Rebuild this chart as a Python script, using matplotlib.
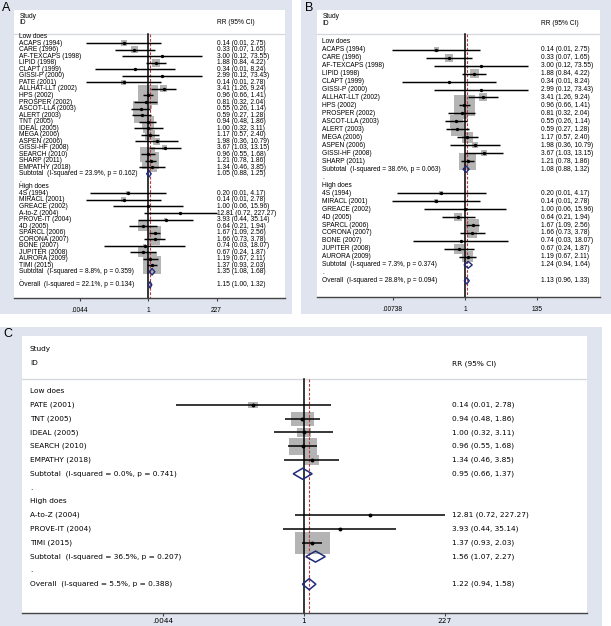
import numpy as np
import matplotlib
matplotlib.use('Agg')
import matplotlib.pyplot as plt
from matplotlib.patches import Rectangle, Polygon
from matplotlib.ticker import NullLocator
from matplotlib.transforms import blended_transform_factory

studies = ['ACAPS (1994)', 'CARE (1996)', 'AF-TEXCAPS (1998)', 'LIPID (1998)', 'CLAPT (1999)',
           'GISSI-P (2000)', 'PATE (2001)', 'ALLHAT-LLT (2002)', 'HPS (2002)', 'PROSPER (2002)',
           'ASCOT-LLA (2003)', 'ALERT (2003)', 'TNT (2005)', 'IDEAL (2005)', 'MEGA (2006)',
           'ASPEN (2006)', 'GISSI-HF (2008)', 'SEARCH (2010)', 'SHARP (2011)', 'EMPATHY (2018)',
           '4S (1994)', 'MIRACL (2001)', 'GREACE (2002)', 'A-to-Z (2004)', 'PROVE-IT (2004)',
           '4D (2005)', 'SPARCL (2006)', 'CORONA (2007)', 'BONE (2007)', 'JUPITER (2008)',
           'AURORA (2009)', 'TIMI (2015)']
rr = [0.14, 0.33, 3.00, 1.88, 0.34, 2.99, 0.14, 3.41, 0.96, 0.81,
      0.55, 0.59, 0.94, 1.00, 1.17, 1.98, 3.67, 0.96, 1.21, 1.34,
      0.20, 0.14, 1.00, 12.81, 3.93, 0.64, 1.67, 1.66, 0.74, 0.67, 1.19, 1.37]
ci_lo = [0.0071, 0.07, 0.12, 0.84, 0.014, 0.12, 0.0071, 1.26, 0.66, 0.32,
         0.26, 0.27, 0.48, 0.32, 0.57, 0.36, 1.03, 0.55, 0.78, 0.46,
         0.0096, 0.0071, 0.06, 0.72, 0.44, 0.21, 1.09, 0.73, 0.03, 0.24, 0.67, 0.93]
ci_hi = [2.75, 1.65, 73.55, 4.22, 8.24, 73.43, 2.78, 9.24, 1.41, 2.04,
         1.14, 1.28, 1.86, 3.11, 2.40, 10.79, 13.15, 1.68, 1.86, 3.85,
         4.17, 2.78, 15.96, 227.27, 35.14, 1.94, 2.56, 3.78, 18.07, 1.87, 2.11, 2.03]

# panel A
a_low = studies[:20]
a_high = studies[20:]
a_weight = [1.07, 1.46, 0.12, 1.90, 0.12, 0.12, 0.74, 1.46, 11.90, 5.03,
            6.69, 6.69, 4.28, 2.98, 2.98, 1.46, 0.74, 6.69, 8.60, 2.98,
            0.48, 0.74, 0.12, 0.06, 0.27, 2.98, 5.03, 3.60, 0.27, 2.98, 5.83, 9.64]
a_pool_rr = [1.05, 1.35, 1.15]   # low subtotal, high subtotal, overall
a_pool_lo = [0.88, 1.08, 1.00]
a_pool_hi = [1.25, 1.68, 1.32]
a_i2 = [23.9, 8.8, 22.1]
a_p = [0.162, 0.359, 0.134]
a_ticks = [0.0044, 1, 227]
a_ticklabels = ['.0044', '1', '227']

# panel B
b_low = ['ACAPS (1994)', 'CARE (1996)', 'AF-TEXCAPS (1998)', 'LIPID (1998)', 'CLAPT (1999)',
         'GISSI-P (2000)', 'ALLHAT-LLT (2002)', 'HPS (2002)', 'PROSPER (2002)', 'ASCOT-LLA (2003)',
         'ALERT (2003)', 'MEGA (2006)', 'ASPEN (2006)', 'GISSI-HF (2008)', 'SHARP (2011)']
b_high = ['4S (1994)', 'MIRACL (2001)', 'GREACE (2002)', '4D (2005)', 'SPARCL (2006)',
          'CORONA (2007)', 'BONE (2007)', 'JUPITER (2008)', 'AURORA (2009)']
b_weight = [1.11, 2.85, 0.18, 3.61, 0.18, 0.18, 2.85, 19.64, 6.41, 7.53,
            7.53, 5.39, 1.60, 1.60, 12.87,
            0.71, 0.71, 0.18, 2.85, 7.53, 4.45, 0.18, 4.45, 5.39]
b_pool_rr = [1.08, 1.24, 1.13]
b_pool_lo = [0.88, 0.94, 0.96]
b_pool_hi = [1.32, 1.64, 1.33]
b_i2 = [38.6, 7.3, 28.8]
b_p = [0.063, 0.374, 0.094]
b_ticks = [0.00738, 1, 135]
b_ticklabels = ['.00738', '1', '135']

# panel C
c_low = ['PATE (2001)', 'TNT (2005)', 'IDEAL (2005)', 'SEARCH (2010)', 'EMPATHY (2018)']
c_high = ['A-to-Z (2004)', 'PROVE-IT (2004)', 'TIMI (2015)']
c_weight = [3.70, 16.40, 6.14, 24.55, 7.35, 0.19, 0.53, 41.12]
c_pool_rr = [0.95, 1.56, 1.22]
c_pool_lo = [0.66, 1.07, 0.94]
c_pool_hi = [1.37, 2.27, 1.58]
c_i2 = [0.0, 36.5, 5.5]
c_p = [0.741, 0.207, 0.388]
c_ticks = [0.0044, 1, 227]
c_ticklabels = ['.0044', '1', '227']

W, H = 611, 626
BG = '#dfe4ee'
BOX = '#b4b4b4'
NAVY = '#1f2a7a'
RED = '#b83a3a'

fig = plt.figure(figsize=(W / 100, H / 100), dpi=100)
fig.patch.set_facecolor('white')


def ci_text(e, l, h):
    return f'{e:.2f} ({l:.2f}, {h:.2f})'


def draw_panel(letter, g, low, high, weight, prr, plo, phi, pi2, pp, ticks, ticklabels):
    # grey frame behind the panel
    x0, y0_, x1_, y1_ = g['bg']
    fig.patches.append(Rectangle((x0 / W, 1 - y1_ / H), (x1_ - x0) / W, (y1_ - y0_) / H,
                                 transform=fig.transFigure, facecolor=BG, edgecolor='none', zorder=-5))
    fig.text(g['letter'][0] / W, 1 - g['letter'][1] / H, letter, fontsize=9,
             family='Liberation Sans', ha='left', va='center', color='black')

    l, r, t, b = g['box']
    ax = fig.add_axes([l / W, 1 - b / H, (r - l) / W, (b - t) / H])
    ax.set_zorder(2)
    ax.set_facecolor('white')
    one, ppd, y0, dy = g['one'], g['ppd'], g['y0'], g['dy']
    ax.set_xscale('log')
    ax.set_xlim(10 ** ((l - one) / ppd), 10 ** ((r - one) / ppd))

    def row(ypx):
        return (ypx - y0) / dy

    ax.set_ylim(row(b), row(t))
    tr = blended_transform_factory(ax.transAxes, ax.transData)

    def fx(xpx):
        return (xpx - l) / (r - l)

    fs, fam = g['fs'], g['font']
    kw = dict(transform=tr, fontsize=fs, family=fam, va='center', ha='left', color='black')
    ax.text(fx(g['lx']), row(g['study_y']), 'Study', **kw)
    ax.text(fx(g['lx']), row(g['id_y']), 'ID', **kw)
    ax.text(fx(g['vx']), row(g['id_y']), 'RR (95% CI)', **kw)
    ax.axhline(row(g['sep']), color='#d3d7de', lw=0.9)

    # null line and pooled estimate line
    ax.plot([1, 1], [row(g['sep']), row(b)], color='black', lw=1.1, zorder=3)
    ax.plot([prr[2], prr[2]], [row(g['sep']), row(b)], color=RED, lw=0.8,
            ls=(0, (2.5, 1.5)), zorder=3)

    # study squares, confidence bars and point estimates
    ys, es, los, his = [], [], [], []

    def study(y, name, w):
        i = studies.index(name)
        e = rr[i]
        hpx = g['k'] * np.sqrt(w)
        half = hpx * g['aspect'] / 2 / ppd
        ax.add_patch(Rectangle((e * 10 ** -half, y - hpx / 2 / dy),
                               e * 10 ** half - e * 10 ** -half, hpx / dy,
                               facecolor=BOX, edgecolor='none', zorder=2))
        ys.append(y)
        es.append(e)
        los.append(ci_lo[i])
        his.append(ci_hi[i])
        ax.text(fx(g['lx']), y, name, **kw)
        ax.text(fx(g['vx']), y, ci_text(e, ci_lo[i], ci_hi[i]), **kw)

    def pooled(y, j, label):
        hh = g['dh'] / dy
        ax.add_patch(Polygon([(plo[j], y), (prr[j], y - hh), (phi[j], y), (prr[j], y + hh)],
                             closed=True, facecolor='none', edgecolor=NAVY,
                             lw=g['dlw'], zorder=6))
        ax.text(fx(g['lx']), y, f'{label}  (I-squared = {pi2[j]:.1f}%, p = {pp[j]:.3f})', **kw)
        ax.text(fx(g['vx']), y, ci_text(prr[j], plo[j], phi[j]), **kw)

    y = 0
    ax.text(fx(g['lx']), y, 'Low does', **kw)
    wi = 0
    for name in low:
        y += 1
        study(y, name, weight[wi])
        wi += 1
    y += 1
    pooled(y, 0, 'Subtotal')
    y += 1
    ax.text(fx(g['lx']), y, '.', **kw)
    y += 1
    ax.text(fx(g['lx']), y, 'High does', **kw)
    for name in high:
        y += 1
        study(y, name, weight[wi])
        wi += 1
    y += 1
    pooled(y, 1, 'Subtotal')
    y += 1
    ax.text(fx(g['lx']), y, '.', **kw)
    y += 1
    pooled(y, 2, 'Overall')

    ax.hlines(ys, los, his, colors='black', lw=g['lw'], zorder=7)
    ax.scatter(es, ys, s=g['ms'] ** 2, color='black', linewidths=0, zorder=8)

    for s in ['top', 'left', 'right']:
        ax.spines[s].set_visible(False)
    ax.spines['bottom'].set_color('#444444')
    ax.spines['bottom'].set_linewidth(1.0)
    ax.set_yticks([])
    ax.set_xticks(ticks)
    ax.set_xticklabels(ticklabels)
    ax.xaxis.set_minor_locator(NullLocator())
    ax.tick_params(axis='x', length=2.5, width=0.8, color='#444444', pad=g['pad'],
                   labelsize=fs, labelcolor='black')
    for lab in ax.get_xticklabels():
        lab.set_family(fam)
    return ax


geo_a = dict(bg=(0, 0, 292, 314), letter=(2, 8), box=(14, 285, 10, 297.7), sep=34.3,
             study_y=16.7, id_y=22.7, y0=36.7, dy=6.53, lx=19.3, vx=216.7, one=148.3, ppd=29.0,
             k=5.8, aspect=1.0, lw=1.05, ms=2.4, dh=3.3, dlw=1.0, fs=4.75,
             font='Liberation Sans', pad=4.0)
geo_b = dict(bg=(301, 0, 611, 314), letter=(305, 8), box=(316.7, 600, 10, 296.7), sep=34.3,
             study_y=16.7, id_y=23.3, y0=41.7, dy=7.97, lx=322.3, vx=540.7, one=465, ppd=33.9,
             k=4.74, aspect=1.0, lw=1.05, ms=2.4, dh=3.3, dlw=1.0, fs=4.75,
             font='Liberation Sans', pad=4.0)
geo_c = dict(bg=(0, 327, 602, 626), letter=(3, 334), box=(22, 587, 335.7, 612.7), sep=379.3,
             study_y=349.3, id_y=363.3, y0=391, dy=13.8, lx=30, vx=451.7, one=304, ppd=59.8,
             k=3.43, aspect=1.6, lw=1.1, ms=2.8, dh=5.5, dlw=1.1, fs=5.3,
             font='DejaVu Sans', pad=1.5)

draw_panel('A', geo_a, a_low, a_high, a_weight, a_pool_rr, a_pool_lo, a_pool_hi, a_i2, a_p,
           a_ticks, a_ticklabels)
draw_panel('B', geo_b, b_low, b_high, b_weight, b_pool_rr, b_pool_lo, b_pool_hi, b_i2, b_p,
           b_ticks, b_ticklabels)
draw_panel('C', geo_c, c_low, c_high, c_weight, c_pool_rr, c_pool_lo, c_pool_hi, c_i2, c_p,
           c_ticks, c_ticklabels)

fig.savefig('out.png', dpi=100, facecolor='white')
